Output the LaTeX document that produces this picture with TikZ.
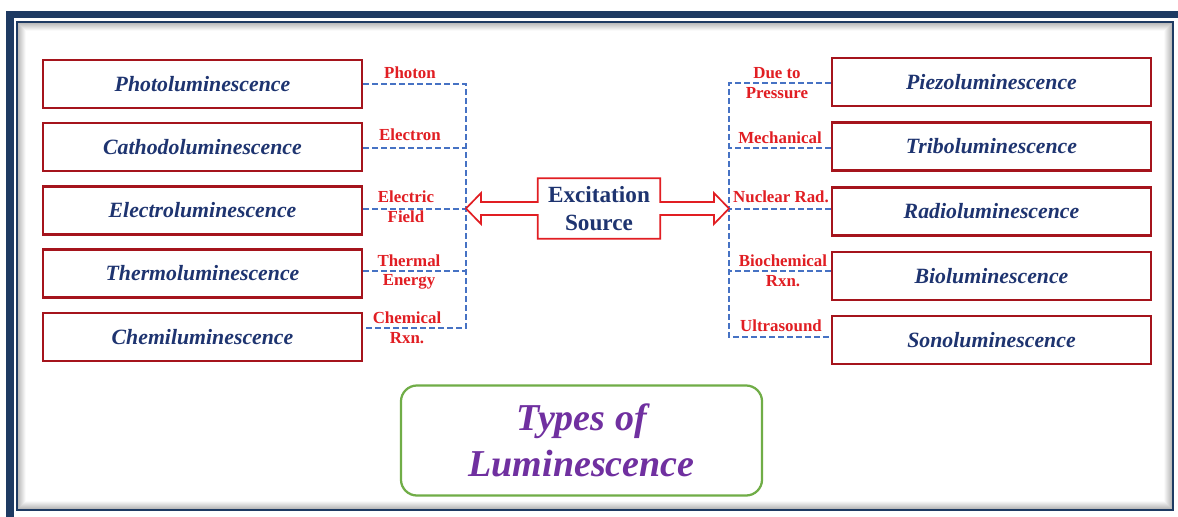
\documentclass[tikz,border=0pt]{standalone}
\usepackage{fontspec}
\setmainfont{Liberation Serif}
\usetikzlibrary{calc}

\definecolor{framenavy}{RGB}{30,58,98}
\definecolor{textnavy}{RGB}{30,52,112}
\definecolor{boxred}{RGB}{165,20,28}
\definecolor{cuered}{RGB}{225,30,35}
\definecolor{linkblue}{RGB}{70,114,196}
\definecolor{titlegreen}{RGB}{112,173,71}
\definecolor{titlepurple}{RGB}{112,48,160}

\begin{document}
\begin{tikzpicture}[x = 0.025cm, y = -0.025cm,
    lumbox/.style = {draw = boxred, line width = 1.6pt, minimum width = 7.975cm,
        minimum height = 1.2cm, inner sep = 0pt, text = textnavy,
        font = \bfseries\itshape\fontsize{15.5}{18}\selectfont},
    cue/.style = {text = cuered, align = center, inner sep = 0pt,
        font = \bfseries\fontsize{12}{14.2}\selectfont},
    link/.style = {draw = linkblue, line width = 1.4pt, dash pattern = on 4.3pt off 2.1pt}]
    \def\xMAX{1178};
    \def\yMAX{516};

    \begin{scope}
        \useasboundingbox (0,0) rectangle (\xMAX,\yMAX);
        \clip (0,0) rectangle (\xMAX,\yMAX);
        \fill [white] (0,0) rectangle (\xMAX,\yMAX);
        \draw [framenavy, line width = 0.175cm] (10,14.5) rectangle (1190,530);
        \draw [framenavy, line width = 0.05cm] (17,21.5) rectangle (1172.5,509.5);
        \foreach \k [evaluate = \k as \op using 0.30-0.035*\k] in {1,...,8}
            \draw [black, opacity = \op, line width = 0.025cm] (17+\k,22+\k) rectangle (1172-\k,509-\k);
    \end{scope}

    \foreach \i/\y/\name in {1/84/Photoluminescence, 2/147/Cathodoluminescence,
            3/210.5/Electroluminescence, 4/273.5/Thermoluminescence, 5/337/Chemiluminescence}
        \node [lumbox] (L\i) at (202.5,\y) {\name};
    \foreach \i/\y/\name in {1/82/Piezoluminescence, 2/146.5/Triboluminescence,
            3/211.5/Radioluminescence, 4/276/Bioluminescence, 5/340/Sonoluminescence}
        \node [lumbox] (R\i) at (991.5,\y) {\name};

    \coordinate (busL) at (466,208.5);
    \coordinate (busR) at (729,208.5);

    \begin{scope}
        \draw [link] (L1.east |- 0,84) -- (busL |- 0,84) -- (busL |- 0,328) -- (L5.east |- 0,328);
        \foreach \i/\d in {2/148, 3/209, 4/271}
            \draw [link] (L\i.east |- 0,\d) -- (busL |- 0,\d);
        \draw [link] (R1.west |- 0,83) -- (busR |- 0,83) -- (busR |- 0,337) -- (R5.west |- 0,337);
        \foreach \i/\d in {2/148, 3/209, 4/271}
            \draw [link] (R\i.west |- 0,\d) -- (busR |- 0,\d);
    \end{scope}

    \node [cue] (photon) at (410,73) {Photon};
    \node [cue] (electron) at (410,135) {Electron};
    \node [cue] (field) at (406,207) {Electric\\Field};
    \node [cue] (thermal) at (409,272) {Thermal\\Energy};
    \node [cue] (chemical) at (407,328) {Chemical\\Rxn.};
    \node [cue] (pressure) at (777,83) {Due to\\Pressure};
    \node [cue] (mechanical) at (780,138) {Mechanical};
    \node [cue] (nuclear) at (781,197) {Nuclear Rad.};
    \node [cue] (biochemical) at (783,271) {Biochemical\\Rxn.};
    \node [cue] (ultrasound) at (781,326) {Ultrasound};

    \node [minimum width = 3.05cm, minimum height = 1.5cm, inner sep = 0pt, align = center,
        text = textnavy, font = \bfseries\fontsize{16.5}{20.5}\selectfont] (src) at (599,208.5) {Excitation\\Source};
    \draw [cuered, line width = 1.2pt, line join = miter]
        (src.north west) -- (src.north east) -- ($(src.east |- busR)+(0,-6.5)$)
        -- ($(busR)+(-15,-6.5)$) -- ($(busR)+(-15,-15.5)$) -- (busR)
        -- ($(busR)+(-15,15.5)$) -- ($(busR)+(-15,6.5)$) -- ($(src.east |- busR)+(0,6.5)$)
        -- (src.south east) -- (src.south west) -- ($(src.west |- busL)+(0,6.5)$)
        -- ($(busL)+(15,6.5)$) -- ($(busL)+(15,15.5)$) -- (busL)
        -- ($(busL)+(15,-15.5)$) -- ($(busL)+(15,-6.5)$) -- ($(src.west |- busL)+(0,-6.5)$) -- cycle;

    \node [draw = titlegreen, line width = 1.6pt, rounded corners = 0.4cm,
        minimum width = 9.025cm, minimum height = 2.75cm, align = center, text = titlepurple,
        font = \bfseries\itshape\fontsize{27}{33}\selectfont] (title) at (581.5,440.5) {Types of\\Luminescence};
\end{tikzpicture}
\end{document}
